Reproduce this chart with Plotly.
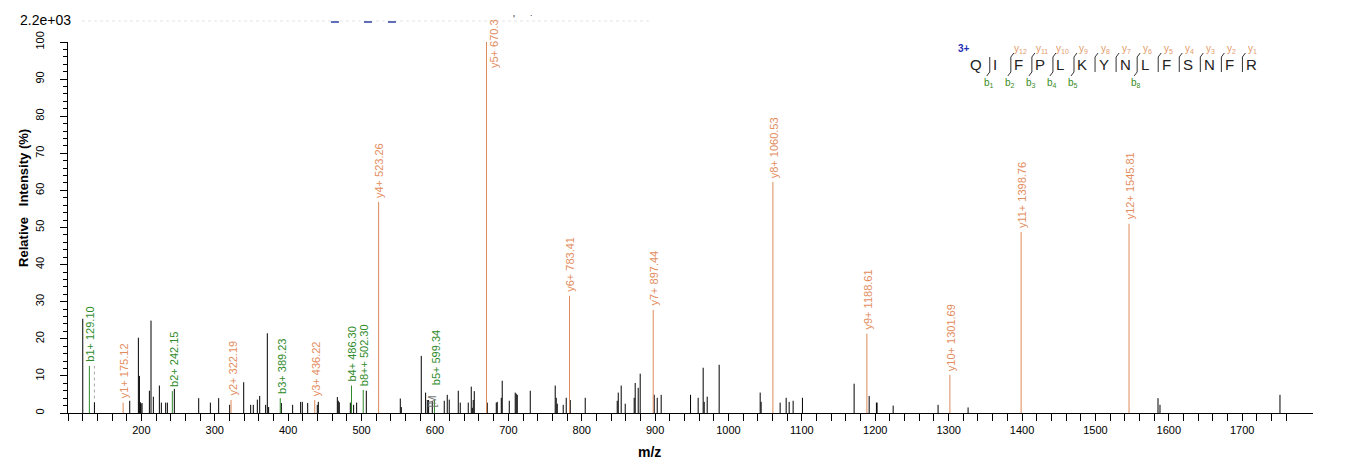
import plotly.graph_objects as go

# ---------------- data ----------------
black_mz = [120.1, 136.0, 184.1, 195.9, 197.3, 198.6, 199.5, 200.9, 210.9, 213.1, 216.3, 224.5,
            227.2, 233.1, 235.4, 244.9, 278.1, 294.0, 305.3, 320.3, 339.4, 348.9, 352.5, 358.0,
            361.2, 369.3, 371.6, 373.4, 390.7, 406.1, 417.0, 419.3, 426.6, 439.7, 441.1, 467.0,
            468.3, 469.7, 484.7, 489.2, 493.3, 506.5, 552.8, 554.2, 581.4, 587.3, 589.6, 591.4,
            596.4, 612.7, 616.8, 619.5, 631.8, 634.5, 645.4, 649.5, 650.9, 652.2, 653.6, 671.3,
            683.6, 684.9, 690.4, 691.7, 701.3, 709.4, 710.8, 712.2, 729.9, 763.9, 765.3, 766.7,
            774.8, 778.9, 784.4, 804.8, 848.4, 849.8, 853.8, 859.3, 871.5, 872.9, 877.0, 879.7,
            898.8, 902.9, 908.3, 948.3, 958.7, 965.5, 966.9, 971.0, 987.3, 1043.2, 1044.5, 1070.4,
            1078.6, 1082.7, 1088.1, 1100.8, 1171.2, 1191.7, 1201.6, 1202.5, 1224.4, 1285.6, 1326.5,
            1585.3, 1588.0, 1751.5]
black_int = [25.4, 2.9, 3.3, 20.3, 10.0, 2.9, 2.5, 2.7, 6.0, 24.9, 4.4, 7.4,
             2.8, 2.8, 2.8, 6.5, 4.0, 2.8, 4.0, 2.2, 8.3, 2.2, 2.2, 3.6,
             4.6, 2.2, 21.5, 1.6, 2.7, 2.2, 3.0, 3.0, 2.7, 2.2, 3.0, 4.3,
             3.3, 2.9, 2.8, 2.2, 2.8, 6.0, 3.9, 1.6, 15.4, 5.5, 3.5, 3.5,
             3.2, 3.3, 4.9, 3.6, 6.0, 2.8, 2.8, 7.1, 1.4, 3.5, 5.9, 2.8,
             2.8, 3.0, 4.1, 8.7, 3.3, 5.5, 5.2, 4.9, 6.0, 7.4, 4.1, 2.5,
             2.2, 4.1, 3.5, 4.1, 3.3, 5.5, 7.4, 2.5, 4.1, 8.1, 6.8, 10.6,
             4.9, 4.1, 4.9, 4.9, 4.1, 12.2, 3.0, 4.4, 13.0, 5.5, 3.0, 2.8,
             4.1, 3.0, 3.3, 4.1, 7.9, 4.6, 2.8, 2.8, 2.0, 2.2, 1.5,
             4.0, 2.2, 4.9]

y_mz = [175.12, 322.19, 436.22, 523.26, 670.3, 783.41, 897.44, 1060.53, 1188.61, 1301.69, 1398.76, 1545.81]
y_int = [2.8, 3.5, 3.5, 56.9, 100.0, 31.6, 27.8, 62.3, 21.4, 10.3, 48.8, 51.0]
y_lab = ["y1+ 175.12", "y2+ 322.19", "y3+ 436.22", "y4+ 523.26", "y5+ 670.3", "y6+ 783.41",
         "y7+ 897.44", "y8+ 1060.53", "y9+ 1188.61", "y10+ 1301.69", "y11+ 1398.76", "y12+ 1545.81"]

b_mz = [129.10, 242.15, 389.23, 486.30, 502.30, 599.34]
b_int = [12.7, 5.9, 4.0, 7.4, 6.2, 3.7]
b_lab = ["b1+ 129.10", "b2+ 242.15", "b3+ 389.23", "b4+ 486.30", "b8++ 502.30", "b5+ 599.34"]

x_major = list(range(200, 1701, 100))
x_minor = [v for v in range(100, 1761, 20) if v % 100 != 0 or v == 100]
y_major = list(range(0, 101, 10))
y_minor = [v for v in range(0, 101, 2) if v % 10 != 0]

sequence = list("QIFPLKYNLFSNFR")
y_frag = ["y12", "y11", "y10", "y9", "y8", "y7", "y6", "y5", "y4", "y3", "y2", "y1"]  # junctions 1..12
b_frag = {0: "b1", 1: "b2", 2: "b3", 3: "b4", 4: "b5", 7: "b8"}

# ---------------- styles ----------------
ORANGE_L = "#DE8B5C"
ORANGE_T = "#E38D5E"
GREEN = "#2F8A2A"
FONT = "Arial, Liberation Sans, sans-serif"

W, H = 1362, 473
L, R, T, B = 68, 1313.3, 42, 413.3


def px(xp):
    return (xp - L) / (R - L)


def py(yp):
    return (B - yp) / (B - T)


def sticks(xs, ys):
    X, Y = [], []
    for a, b in zip(xs, ys):
        X += [a, a, None]
        Y += [0, b, None]
    return X, Y


def note(xp, yp, text, size, color, xanchor="center", yanchor="middle", angle=0):
    return dict(x=px(xp), y=py(yp), xref="paper", yref="paper", text=text, showarrow=False,
                xanchor=xanchor, yanchor=yanchor, textangle=angle,
                font=dict(family=FONT, size=size, color=color))


fig = go.Figure()
for xs, ys, col in [(black_mz, black_int, "black"), (y_mz, y_int, ORANGE_L), (b_mz, b_int, GREEN)]:
    X, Y = sticks(xs, ys)
    fig.add_trace(go.Scatter(x=X, y=Y, mode="lines", line=dict(color=col, width=1),
                             hoverinfo="skip", showlegend=False, cliponaxis=False))

ann = []
for m, i, t in zip(y_mz, y_int, y_lab):
    if t.startswith("y5+"):
        # label does not fit above the base peak: drawn beside the line
        ann.append(dict(x=m, y=i, xref="x", yref="y", text=t, textangle=-90, showarrow=False,
                        xanchor="center", yanchor="bottom", xshift=7, yshift=-28,
                        font=dict(family=FONT, size=11, color=ORANGE_T)))
    else:
        ann.append(dict(x=m, y=i, xref="x", yref="y", text=t, textangle=-90, showarrow=False,
                        xanchor="center", yanchor="bottom", yshift=2, xshift=1,
                        font=dict(family=FONT, size=11, color=ORANGE_T)))
for m, i, t in zip(b_mz, b_int, b_lab):
    ys = 2
    if t.startswith("b5+"):
        ys = 12
    ann.append(dict(x=m, y=i, xref="x", yref="y", text=t, textangle=-90, showarrow=False,
                    xanchor="center", yanchor="bottom", yshift=ys, xshift=1,
                    font=dict(family=FONT, size=11, color=GREEN)))
# partially hidden label near b5
ann.append(dict(x=596.4, y=1.0, xref="x", yref="y", text="[M", textangle=-90, showarrow=False,
                xanchor="center", yanchor="bottom", font=dict(family=FONT, size=11, color="#777777")))

# axis titles
ann.append(note(650, 452, "<b>m/z</b>", 14, "black"))
ann.append(note(24, 198, "<b>Relative&nbsp;&nbsp;&nbsp;Intensity (%)</b>", 13, "black", angle=-90))
# header
ann.append(note(18, 20, "2.2e+03", 14, "black", xanchor="left"))
ann.append(note(514, 19, "'", 10, "#333333"))
ann.append(note(532, 19, "˙", 10, "#333333"))

shapes = []
shapes.append(dict(type="line", xref="paper", yref="paper", x0=px(82), x1=px(650), y0=py(21), y1=py(21),
                   line=dict(color="#E4E4E4", width=1, dash="dot")))
for cx in [335, 368, 392]:
    shapes.append(dict(type="line", xref="paper", yref="paper", x0=px(cx - 4), x1=px(cx + 4),
                       y0=py(22), y1=py(22), line=dict(color="#2B3FA0", width=1.5)))
# dashed connector at b1
shapes.append(dict(type="line", xref="x", yref="y", x0=136.0, x1=136.0, y0=3.9, y1=12.7,
                   line=dict(color="#AAAAAA", width=1, dash="dot")))

# ---- sequence panel ----
ann.append(note(964, 49, "<b>3+</b>", 10, "#1F2FB8"))
J0, DJ = 990.0, 21.06
for k, aa in enumerate(sequence):
    if k == 0:
        ann.append(note(J0 - 6, 65, aa, 15, "#222222", xanchor="right"))
    else:
        ann.append(note(J0 + (k - 1) * DJ + 1.5, 65, aa, 15, "#222222", xanchor="left"))
for k in range(13):
    jx = J0 + k * DJ
    shapes.append(dict(type="line", xref="paper", yref="paper", x0=px(jx), x1=px(jx),
                       y0=py(57), y1=py(72), line=dict(color="#333333", width=1)))
    if k >= 1:
        shapes.append(dict(type="line", xref="paper", yref="paper", x0=px(jx), x1=px(jx + 3),
                           y0=py(57), y1=py(53), line=dict(color="#333333", width=1)))
        lab = y_frag[k - 1]
        ann.append(note(jx + 10, 49, "y<sub>" + lab[1:] + "</sub>", 10, "#E39A6A"))
    if k in b_frag:
        shapes.append(dict(type="line", xref="paper", yref="paper", x0=px(jx), x1=px(jx - 3),
                           y0=py(72), y1=py(76), line=dict(color="#333333", width=1)))
        lab = b_frag[k]
        ann.append(note(jx - 1, 83, "b<sub>" + lab[1:] + "</sub>", 10, "#3C8C1C"))

fig.update_layout(
    width=W, height=H,
    margin=dict(l=L, r=W - R, t=T, b=H - B),
    paper_bgcolor="white", plot_bgcolor="white",
    showlegend=False,
    annotations=ann, shapes=shapes,
    xaxis=dict(range=[100, 1796.5], showline=True, linecolor="black", linewidth=1,
               ticks="outside", ticklen=7, tickcolor="black", tickvals=x_major,
               ticktext=[str(v) for v in x_major], showgrid=False, zeroline=False,
               tickfont=dict(family=FONT, size=11, color="black"),
               minor=dict(tickvals=x_minor, ticks="outside", ticklen=7, tickcolor="black", showgrid=False)),
    yaxis=dict(range=[0, 100], showline=True, linecolor="black", linewidth=1,
               ticks="outside", ticklen=7, tickcolor="black", tickvals=y_major, tickangle=-90,
               showgrid=False, zeroline=False, ticklabelstandoff=12,
               tickfont=dict(family=FONT, size=11, color="black"),
               minor=dict(tickvals=y_minor, ticks="outside", ticklen=4, tickcolor="black", showgrid=False)),
)

fig.write_html("out.html")
